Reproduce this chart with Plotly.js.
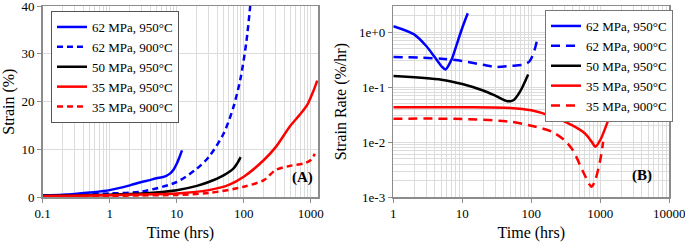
<!DOCTYPE html>
<html><head><meta charset="utf-8">
<script src="https://cdn.plot.ly/plotly-3.0.1.min.js"></script>
<style>html,body{margin:0;padding:0;background:#fff}#c{width:685px;height:243px}</style>
</head><body><div id="c"></div>
<script>
// ---- Panel A: strain (%) vs time (hrs)
const names = ['62 MPa, 950°C','62 MPa, 900°C','50 MPa, 950°C','35 MPa, 950°C','35 MPa, 900°C'];
const tA_62_950 = [0.1,0.2,0.3,0.5,1,2,3,4,5,6,7,8,9,10,11,12];
const sA_62_950 = [0.4,0.55,0.7,1.0,1.5,2.5,3.2,3.6,4.0,4.2,4.5,5.0,5.8,7.0,8.4,9.8];
const tA_62_900 = [0.1,0.3,1,3,10,20,30,50,70,90,110,125];
const sA_62_900 = [0.4,0.5,0.8,1.2,3.2,6.0,8.4,13.3,18.8,25,32.7,40];
const tA_50_950 = [0.1,0.3,1,3,10,20,30,50,70,80,90];
const sA_50_950 = [0.35,0.4,0.55,0.8,1.5,2.4,3.2,4.6,6.0,7.1,8.4];
const tA_35_950 = [0.1,0.3,1,3,10,30,60,100,200,300,500,700,900,1100,1250];
const sA_35_950 = [0.3,0.35,0.45,0.6,0.8,1.5,2.6,4.3,7.8,10.5,15,17.4,19.5,22.3,24.4];
const tA_35_900 = [0.1,0.3,1,3,10,30,100,200,300,500,800,1000,1150];
const sA_35_900 = [0.2,0.25,0.3,0.4,0.5,0.9,2.2,3.6,5.7,6.6,7.1,7.8,9.1];

// ---- Panel B: strain rate (%/hr) vs time (hrs)
const tB_62_950 = [1,2,3,4,5,5.7,7,8,10,12];
const rB_62_950 = [1.28,0.91,0.56,0.35,0.24,0.21,0.32,0.52,1.2,2.2];
const tB_62_900 = [1,5,10,20,30,50,80,95,110,125];
const rB_62_900 = [0.355,0.33,0.30,0.255,0.234,0.244,0.26,0.30,0.45,0.85];
const tB_50_950 = [1,5,10,20,30,45,55,70,90];
const rB_50_950 = [0.16,0.137,0.114,0.087,0.07,0.0556,0.058,0.087,0.17];
const tB_35_950 = [1,10,50,100,200,400,600,750,850,1000,1300];
const rB_35_950 = [0.0433,0.0433,0.042,0.038,0.0295,0.020,0.0144,0.0102,0.0083,0.011,0.025];
const tB_35_900 = [1,10,50,100,200,300,400,550,700,750,850,1000,1100];
const rB_35_900 = [0.0268,0.0265,0.0236,0.020,0.0155,0.011,0.0072,0.0031,0.0017,0.00155,0.0021,0.0048,0.0102];

const xTickA = [0.1,1,10,100,1000];
const xTickAText = ['0.1','1','10','100','1000'];
const yTickA = [0,10,20,30,40];
const xTickB = [1,10,100,1000,10000];
const xTickBText = ['1','10','100','1000','10000'];
const yTickB = [0.001,0.01,0.1,1];
const yTickBText = ['1e-3','1e-2','1e-1','1e+0'];

const colors = ['#0000ff','#0000ff','#000000','#ff0000','#ff0000'];
const dashA = ['solid','6px,4px','solid','solid','6px,4px'];
const dashB = ['solid','9px,6px','solid','solid','9px,6px'];

function minorLog(a,b){const v=[];for(let d=a;d<b;d++){for(let k=2;k<=9;k++)v.push(k*Math.pow(10,d));}return v;}

const A = [[tA_62_950,sA_62_950],[tA_62_900,sA_62_900],[tA_50_950,sA_50_950],[tA_35_950,sA_35_950],[tA_35_900,sA_35_900]];
const B = [[tB_62_950,rB_62_950],[tB_62_900,rB_62_900],[tB_50_950,rB_50_950],[tB_35_950,rB_35_950],[tB_35_900,rB_35_900]];
const traces = [];
A.forEach((d,i)=>traces.push({x:d[0],y:d[1],name:names[i],mode:'lines',line:{color:colors[i],width:2.5,dash:dashA[i],shape:'spline',smoothing:0.8},xaxis:'x',yaxis:'y',legend:'legend'}));
B.forEach((d,i)=>traces.push({x:d[0],y:d[1],name:names[i],mode:'lines',line:{color:colors[i],width:2.5,dash:dashB[i],shape:'spline',smoothing:0.8},xaxis:'x2',yaxis:'y2',legend:'legend2'}));

const FAM = 'Times New Roman, Liberation Serif, serif';
const font = {family:FAM,size:13,color:'#000'};
const tf = {family:FAM,size:13,color:'#000'};
const ttf = {family:FAM,size:16,color:'#000'};
const gridc = '#dcdcdc', linec = '#8c8c8c';
const base = {showline:true,mirror:true,linecolor:linec,linewidth:1.5,gridcolor:gridc,gridwidth:1,zeroline:false,ticks:'outside',ticklen:4,tickcolor:linec,tickfont:tf,ticklabeloverflow:'allow'};
const yd = [0.188,1-6/243];
const layout = {
  width:685,height:243,margin:{l:0,r:0,t:0,b:0},paper_bgcolor:'#fff',plot_bgcolor:'#fff',font:font,showlegend:true,
  xaxis:Object.assign({},base,{type:'log',domain:[42.7/685,318.3/685],range:[-1,3.113],tickvals:xTickA,ticktext:xTickAText,anchor:'y',
    minor:{tickvals:minorLog(-1,4),showgrid:true,gridcolor:gridc,ticks:''},
    title:{text:'Time (hrs)',font:ttf,standoff:6}}),
  yaxis:Object.assign({},base,{domain:yd,range:[0,40],tickvals:yTickA,anchor:'x',showgrid:true,
    title:{text:'Strain (%)',font:ttf,standoff:8}}),
  xaxis2:Object.assign({},base,{type:'log',domain:[393.3/685,669.3/685],range:[0,4],tickvals:xTickB,ticktext:xTickBText,anchor:'y2',
    minor:{tickvals:minorLog(0,4),showgrid:true,gridcolor:gridc,ticks:''},
    title:{text:'Time (hrs)',font:ttf,standoff:6}}),
  yaxis2:Object.assign({},base,{type:'log',domain:yd,range:[-3,0.475],tickvals:yTickB,ticktext:yTickBText,anchor:'x2',
    minor:{tickvals:minorLog(-3,1),showgrid:true,gridcolor:gridc,ticks:''},
    title:{text:'Strain Rate (%/hr)',font:ttf,standoff:8}}),
  legend:{x:51/685,y:1-11/243,xanchor:'left',yanchor:'top',bgcolor:'#fff',bordercolor:'#555',borderwidth:1,font:tf,tracegroupgap:0,itemwidth:30},
  legend2:{x:545/685,y:1-10/243,xanchor:'left',yanchor:'top',bgcolor:'#fff',bordercolor:'#777',borderwidth:1,font:tf,tracegroupgap:0,itemwidth:30},
  annotations:[
    {text:'<b>(A)</b>',xref:'paper',yref:'paper',x:302.5/685,y:1-187.5/243,showarrow:false,font:{family:FAM,size:15,color:'#000'}},
    {text:'<b>(B)</b>',xref:'paper',yref:'paper',x:653.7/685,y:1-186/243,showarrow:false,font:{family:FAM,size:15,color:'#000'}}
  ]
};
Plotly.newPlot('c',traces,layout,{staticPlot:true,displayModeBar:false});
</script></body></html>
